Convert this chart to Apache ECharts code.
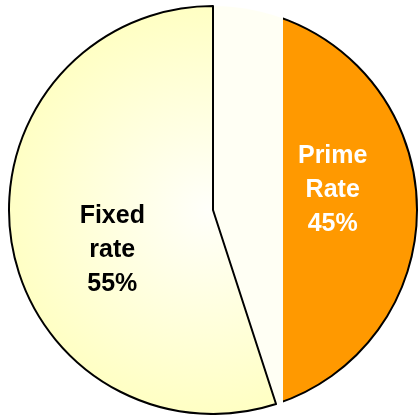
<!DOCTYPE html>
<html>
<head>
<meta charset="utf-8">
<script src="https://cdn.jsdelivr.net/npm/echarts@6/dist/echarts.min.js"></script>
<style>
  html, body { margin: 0; padding: 0; background: #ffffff; }
  #chart { width: 418px; height: 415px; }
</style>
</head>
<body>
<div id="chart"></div>
<script>
// Loan mix by rate type
const categories = ['Prime Rate', 'Fixed rate'];
const shares = [45, 55];

// Label nudges per slice (pixels)
const labelShift = [
  { dx: 16, dy: -3 },
  { dx: 3, dy: 24 }
];

// The prime slice is pale on its left strip and orange beyond it
const primeSplit = 0.343;
const primeFill = new echarts.graphic.LinearGradient(0, 0, 1, 0, [
  { offset: 0, color: '#FFFFF4' },
  { offset: primeSplit, color: '#FFFFF4' },
  { offset: primeSplit, color: '#FF9900' },
  { offset: 1, color: '#FF9900' }
]);
const primeBorder = new echarts.graphic.LinearGradient(0, 0, 1, 0, [
  { offset: 0, color: 'rgba(0,0,0,0)' },
  { offset: primeSplit, color: 'rgba(0,0,0,0)' },
  { offset: primeSplit, color: '#000000' },
  { offset: 1, color: '#000000' }
]);
// Fixed slice: pale yellow shading, lightest near the pie centre
const fixedFill = new echarts.graphic.RadialGradient(0.745, 0.5, 0.75, [
  { offset: 0, color: '#FFFFFA' },
  { offset: 1, color: '#FFFFC4' }
]);

const styles = [
  { itemStyle: { color: primeFill, borderColor: primeBorder, borderWidth: 2 }, label: { color: '#ffffff' } },
  { itemStyle: { color: fixedFill, borderColor: '#000000', borderWidth: 2 }, label: { color: '#000000' } }
];

const chart = echarts.init(document.getElementById('chart'), null, { renderer: 'canvas' });
chart.setOption({
  animation: false,
  backgroundColor: '#ffffff',
  series: [{
    type: 'pie',
    center: [213, 210],
    radius: 204,
    startAngle: 90,
    clockwise: true,
    avoidLabelOverlap: false,
    label: {
      show: true,
      position: 'inner',
      fontFamily: '"Liberation Sans", Arial, sans-serif',
      fontWeight: 'bold',
      fontSize: 25,
      lineHeight: 34,
      align: 'center',
      formatter: p => p.name.replace(' ', '\n') + '\n' + p.value + '%'
    },
    labelLine: { show: false },
    labelLayout: p => labelShift[p.dataIndex],
    emphasis: { disabled: true },
    data: categories.map((name, i) => Object.assign({ name: name, value: shares[i] }, styles[i]))
  }]
});
</script>
</body>
</html>
